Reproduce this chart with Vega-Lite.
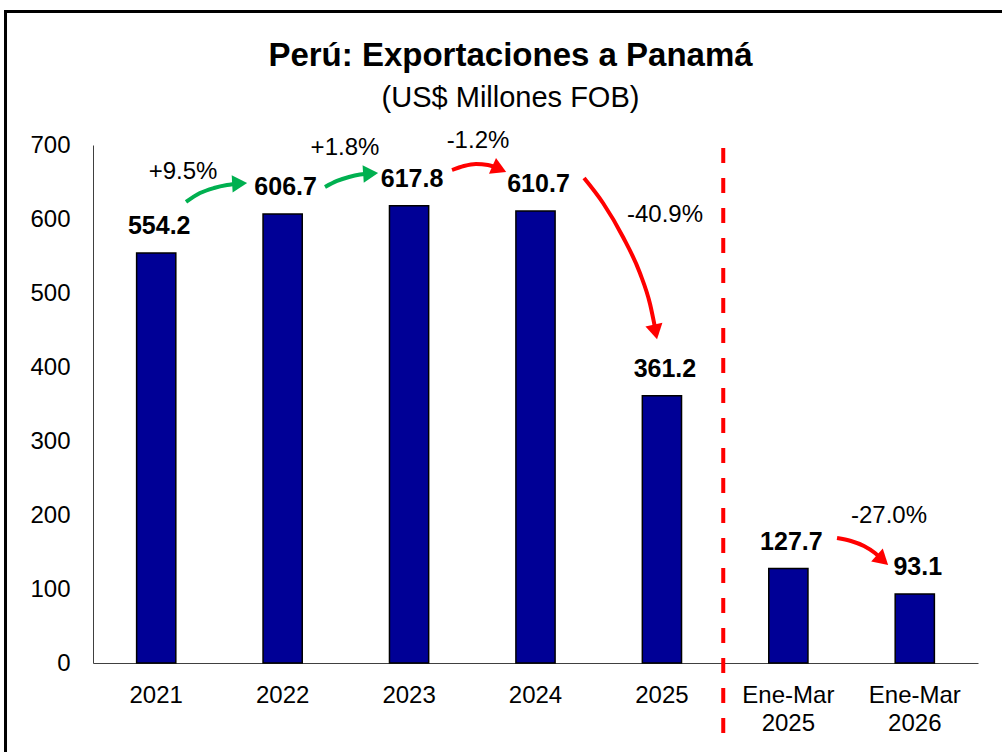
{
  "$schema": "https://vega.github.io/schema/vega-lite/v6.json",
  "width": 885,
  "height": 518,
  "autosize": "none",
  "padding": {"left": 93, "top": 145, "right": 24, "bottom": 89},
  "background": "white",
  "config": {"view": {"stroke": null}, "font": "Liberation Sans"},
  "title": {
    "text": "Perú: Exportaciones a Panamá",
    "subtitle": "(US$ Millones FOB)",
    "font": "Liberation Sans",
    "subtitleFont": "Liberation Sans",
    "fontSize": 33,
    "fontWeight": "bold",
    "subtitleFontSize": 29,
    "color": "black",
    "subtitleColor": "black",
    "anchor": "middle",
    "frame": "group",
    "dx": -25,
    "offset": -103,
    "subtitlePadding": 11
  },
  "datasets": {
    "bars": [
      {"cat": "2021", "v": 554.2},
      {"cat": "2022", "v": 606.7},
      {"cat": "2023", "v": 617.8},
      {"cat": "2024", "v": 610.7},
      {"cat": "2025", "v": 361.2},
      {"cat": "Ene-Mar 2025", "v": 127.7},
      {"cat": "Ene-Mar 2026", "v": 93.1}
    ],
    "arrows": [
      {"id": 1, "dir": "up", "o": 1, "xq": 0.7356, "v": 623.0},
      {"id": 1, "dir": "up", "o": 2, "xq": 0.8463, "v": 635.1},
      {"id": 1, "dir": "up", "o": 3, "xq": 0.957, "v": 641.9},
      {"id": 1, "dir": "up", "o": 4, "xq": 1.06, "v": 645.9},
      {"id": 1, "dir": "up", "o": 5, "xq": 1.1627, "v": 648.1},
      {"id": 2, "dir": "up", "o": 1, "xq": 1.835, "v": 643.2},
      {"id": 2, "dir": "up", "o": 2, "xq": 1.93, "v": 651.4},
      {"id": 2, "dir": "up", "o": 3, "xq": 2.025, "v": 656.8},
      {"id": 2, "dir": "up", "o": 4, "xq": 2.112, "v": 660.1},
      {"id": 2, "dir": "up", "o": 5, "xq": 2.199, "v": 661.5},
      {"id": 3, "dir": "down", "o": 1, "xq": 2.84, "v": 666.2},
      {"id": 3, "dir": "down", "o": 2, "xq": 2.934, "v": 671.6},
      {"id": 3, "dir": "down", "o": 3, "xq": 3.029, "v": 674.3},
      {"id": 3, "dir": "down", "o": 4, "xq": 3.124, "v": 673.0},
      {"id": 3, "dir": "down", "o": 5, "xq": 3.211, "v": 667.6},
      {"id": 4, "dir": "down", "o": 1, "xq": 3.884, "v": 655.4},
      {"id": 4, "dir": "down", "o": 2, "xq": 4.034, "v": 621.6},
      {"id": 4, "dir": "down", "o": 3, "xq": 4.192, "v": 575.7},
      {"id": 4, "dir": "down", "o": 4, "xq": 4.326, "v": 527.0},
      {"id": 4, "dir": "down", "o": 5, "xq": 4.406, "v": 485.1},
      {"id": 4, "dir": "down", "o": 6, "xq": 4.449, "v": 450.0},
      {"id": 5, "dir": "down", "o": 1, "xq": 5.885, "v": 168.9},
      {"id": 5, "dir": "down", "o": 2, "xq": 5.995, "v": 164.9},
      {"id": 5, "dir": "down", "o": 3, "xq": 6.098, "v": 158.1},
      {"id": 5, "dir": "down", "o": 4, "xq": 6.185, "v": 148.6},
      {"id": 5, "dir": "down", "o": 5, "xq": 6.245, "v": 139.2}
    ],
    "heads": [
      {"id": 1, "dir": "up", "xq": 1.16, "v": 648.1, "ang": -3},
      {"id": 2, "dir": "up", "xq": 2.196, "v": 661.5, "ang": -4},
      {"id": 3, "dir": "down", "xq": 3.214, "v": 667.6, "ang": 24},
      {"id": 4, "dir": "down", "xq": 4.449, "v": 447.4, "ang": 78},
      {"id": 5, "dir": "down", "xq": 6.245, "v": 139.1, "ang": 42}
    ],
    "pct": [
      {"label": "+9.5%", "xq": 0.712, "v": 663.5},
      {"label": "+1.8%", "xq": 1.993, "v": 696.0},
      {"label": "-1.2%", "xq": 3.045, "v": 705.4},
      {"label": "-40.9%", "xq": 4.524, "v": 605.4},
      {"label": "-27.0%", "xq": 6.296, "v": 198.6}
    ],
    "divider": [{"xq": 4.985, "v": 696, "v2": -111}],
    "frame": [{"xq": -0.692, "xq2": 7.29, "v": 880.4, "v2": -137.8}]
  },
  "encoding": {
    "y": {
      "field": "v",
      "type": "quantitative",
      "scale": {"domain": [0, 700], "nice": false, "zero": true},
      "axis": {
        "values": [0, 100, 200, 300, 400, 500, 600, 700],
        "title": null,
        "grid": false,
        "ticks": false,
        "domain": true,
        "domainColor": "#404040",
        "domainWidth": 1,
        "labelFontSize": 24,
        "labelColor": "black",
        "labelPadding": 23,
        "labelFont": "Liberation Sans"
      }
    }
  },
  "resolve": {"scale": {"x": "independent"}},
  "layer": [
    {
      "data": {"name": "frame"},
      "mark": {"type": "rect", "filled": false, "color": "black", "strokeWidth": 3},
      "encoding": {
        "x": {"field": "xq", "type": "quantitative", "scale": {"domain": [0, 7], "nice": false, "zero": false}, "axis": null},
        "x2": {"field": "xq2"},
        "y2": {"field": "v2"}
      }
    },
    {
      "data": {"name": "bars"},
      "mark": {"type": "bar", "color": "#000096", "stroke": "black", "strokeWidth": 1.5},
      "encoding": {
        "x": {
          "field": "cat",
          "type": "nominal",
          "sort": null,
          "scale": {"paddingInner": 0.69, "paddingOuter": 0.345},
          "axis": {
            "title": null,
            "ticks": false,
            "domainColor": "#404040",
            "domainWidth": 1,
            "labelAngle": 0,
            "labelFontSize": 24,
            "labelColor": "black",
            "labelPadding": 20,
            "labelFont": "Liberation Sans",
            "labelExpr": "split(datum.label, ' ')",
            "labelLineHeight": 28.5
          }
        }
      }
    },
    {
      "data": {"name": "bars"},
      "mark": {"type": "text", "fontWeight": "bold", "fontSize": 25, "color": "black", "baseline": "middle", "dy": -27, "dx": 3},
      "encoding": {
        "x": {"field": "cat", "type": "nominal", "sort": null, "scale": {"paddingInner": 0.69, "paddingOuter": 0.345}, "axis": null},
        "text": {"field": "v", "type": "quantitative", "format": ".1f"}
      }
    },
    {
      "data": {"name": "divider"},
      "mark": {"type": "rule", "color": "#FF0000", "strokeWidth": 4, "strokeDash": [15, 15]},
      "encoding": {
        "x": {"field": "xq", "type": "quantitative", "scale": {"domain": [0, 7], "nice": false, "zero": false}, "axis": null},
        "y2": {"field": "v2"}
      }
    },
    {
      "data": {"name": "arrows"},
      "mark": {"type": "line", "strokeWidth": 4, "interpolate": "monotone"},
      "encoding": {
        "x": {"field": "xq", "type": "quantitative", "scale": {"domain": [0, 7], "nice": false, "zero": false}, "axis": null},
        "color": {"field": "dir", "type": "nominal", "scale": {"domain": ["up", "down"], "range": ["#00B050", "#FF0000"]}, "legend": null},
        "detail": {"field": "id", "type": "nominal"},
        "order": {"field": "o", "type": "quantitative"}
      }
    },
    {
      "data": {"name": "heads"},
      "mark": {"type": "point", "shape": "triangle-right", "filled": true, "size": 300, "opacity": 1},
      "encoding": {
        "x": {"field": "xq", "type": "quantitative", "scale": {"domain": [0, 7], "nice": false, "zero": false}, "axis": null},
        "color": {"field": "dir", "type": "nominal", "scale": {"domain": ["up", "down"], "range": ["#00B050", "#FF0000"]}, "legend": null},
        "angle": {"field": "ang", "type": "quantitative", "scale": null}
      }
    },
    {
      "data": {"name": "pct"},
      "mark": {"type": "text", "fontSize": 24, "color": "black", "baseline": "middle"},
      "encoding": {
        "x": {"field": "xq", "type": "quantitative", "scale": {"domain": [0, 7], "nice": false, "zero": false}, "axis": null},
        "text": {"field": "label", "type": "nominal"}
      }
    }
  ]
}
